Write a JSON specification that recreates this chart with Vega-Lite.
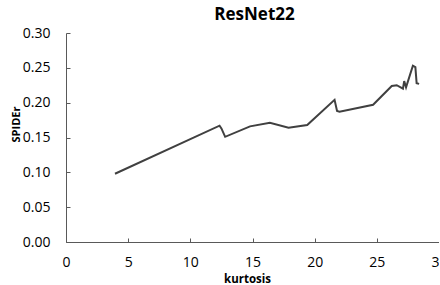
{
  "$schema": "https://vega.github.io/schema/vega-lite/v6.json",
  "autosize": {"type": "none"},
  "padding": {"left": 66, "top": 33, "right": 0, "bottom": 43},
  "width": 373,
  "height": 209,
  "background": "white",
  "title": {"text": "ResNet22", "font": "Open Sans", "fontSize": 17, "fontWeight": "bold", "color": "#000000", "offset": 2, "anchor": "middle", "dx": 2},
  "config": {"view": {"stroke": null}},
  "data": {"values": [
    {"kurtosis": 3.94, "SPIDEr": 0.098},
    {"kurtosis": 12.35, "SPIDEr": 0.167},
    {"kurtosis": 12.5, "SPIDEr": 0.163},
    {"kurtosis": 12.8, "SPIDEr": 0.151},
    {"kurtosis": 14.8, "SPIDEr": 0.166},
    {"kurtosis": 16.4, "SPIDEr": 0.171},
    {"kurtosis": 17.9, "SPIDEr": 0.164},
    {"kurtosis": 19.4, "SPIDEr": 0.168},
    {"kurtosis": 21.6, "SPIDEr": 0.204},
    {"kurtosis": 21.8, "SPIDEr": 0.188},
    {"kurtosis": 22.0, "SPIDEr": 0.187},
    {"kurtosis": 24.7, "SPIDEr": 0.197},
    {"kurtosis": 26.2, "SPIDEr": 0.224},
    {"kurtosis": 26.6, "SPIDEr": 0.225},
    {"kurtosis": 27.1, "SPIDEr": 0.220},
    {"kurtosis": 27.2, "SPIDEr": 0.231},
    {"kurtosis": 27.35, "SPIDEr": 0.222},
    {"kurtosis": 27.9, "SPIDEr": 0.253},
    {"kurtosis": 28.1, "SPIDEr": 0.251},
    {"kurtosis": 28.2, "SPIDEr": 0.228},
    {"kurtosis": 28.4, "SPIDEr": 0.227}
  ]},
  "mark": {"type": "line", "color": "#404040", "strokeWidth": 2},
  "encoding": {
    "x": {"field": "kurtosis", "type": "quantitative", "sort": null,
      "scale": {"domain": [0, 30], "nice": false},
      "axis": {"values": [0, 5, 10, 15, 20, 25, 30], "grid": false, "title": "kurtosis",
        "titleFont": "Open Sans", "titleFontSize": 11.5, "titleFontWeight": "bold", "titleColor": "#000000",
        "titleX": 181, "titleY": 37, "titleBaseline": "middle", "titleAlign": "center",
        "labelFont": "Open Sans", "labelFontSize": 14, "labelColor": "#000000", "labelPadding": 17,
        "tickSize": -4, "tickColor": "#595959", "domainColor": "#595959", "labelFlush": false}},
    "y": {"field": "SPIDEr", "type": "quantitative",
      "scale": {"domain": [0, 0.3], "nice": false},
      "axis": {"values": [0, 0.05, 0.1, 0.15, 0.2, 0.25, 0.3], "format": ".2f", "grid": false, "title": "SPIDEr",
        "titleFont": "Open Sans", "titleFontSize": 11, "titleFontWeight": "bold", "titleColor": "#000000",
        "titleX": -50, "titleY": 91, "titleBaseline": "middle", "titleAlign": "center", "titleAngle": -90,
        "labelFont": "Open Sans", "labelFontSize": 14, "labelColor": "#000000", "labelPadding": 20,
        "tickSize": -4, "tickColor": "#595959", "domainColor": "#595959", "labelFlush": false}}
  }
}
